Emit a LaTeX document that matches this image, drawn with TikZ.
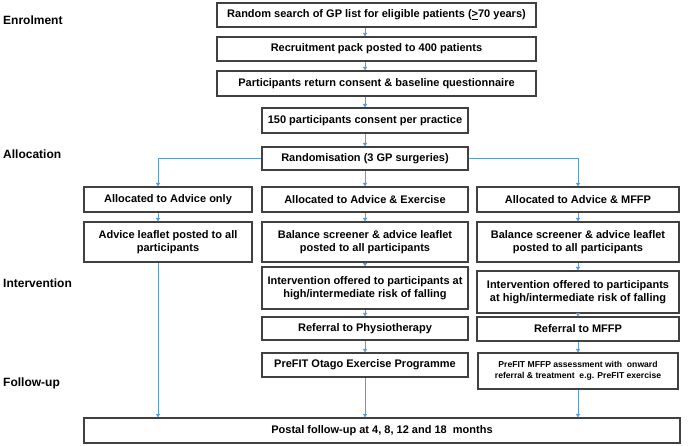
\documentclass[tikz,border=0pt]{standalone}
\usepackage{fontspec}
\setmainfont{Liberation Sans}
\usepackage{tikz}
\usetikzlibrary{calc,arrows.meta,positioning}

\definecolor{linkblue}{RGB}{91,155,213}
\definecolor{boxgrey}{RGB}{64,64,64}

\begin{document}
\begin{tikzpicture}[x=1pt,y=-1pt,
    box/.style={draw=boxgrey,line width=1.1pt,fill=white,inner sep=0pt,align=center,
      font=\fontsize{11}{12.5}\selectfont\bfseries},
    smallbox/.style={box,font=\fontsize{8.6}{10.5}\selectfont\bfseries},
    stage/.style={anchor=west,inner sep=0pt,font=\fontsize{12}{14}\selectfont\bfseries},
    arr/.style={draw=linkblue,line width=0.8pt,-{Triangle[length=3.5pt,width=4pt]}}]
        \useasboundingbox (0,0) rectangle (690,445);
        \def\colA{168}
        \def\colB{365}
        \def\colC{578}

        % stages
        \node[stage] (enrol) at (3,20) {Enrolment};
        \node[stage] (alloc) at (3,154) {Allocation};
        \node[stage] (interv) at (3,283) {Intervention};
        \node[stage] (follow) at (3,383) {Follow-up};

        % enrolment
        \node[box,minimum width=319,minimum height=24] (e1) at (376.5,15) {Random search of GP list for eligible patients (\underline{>}70 years)};
        \node[box,minimum width=319,minimum height=24] (e2) at (376.5,49) {Recruitment pack posted to 400 patients};
        \node[box,minimum width=319,minimum height=25] (e3) at (376.5,83.5) {Participants return consent \& baseline questionnaire};
        \node[box,minimum width=206,minimum height=25] (e4) at (\colB,120.5) {150 participants consent per practice};
        \node[box,minimum width=206,minimum height=23] (rand) at (\colB,158.5) {Randomisation (3 GP surgeries)};

        % advice only
        \node[box,minimum width=168,minimum height=25] (adv1) at (\colA,199.5) {Allocated to Advice only};
        \node[box,minimum width=168,minimum height=40] (adv2) at (\colA,242) {Advice leaflet posted to all\\participants};

        % advice & exercise
        \node[box,minimum width=206,minimum height=25] (ex1) at (\colB,199.5) {Allocated to Advice \& Exercise};
        \node[box,minimum width=206,minimum height=40] (ex2) at (\colB,242) {Balance screener \& advice leaflet\\posted to all participants};
        \node[box,minimum width=206,minimum height=42] (ex3) at (\colB,288) {Intervention offered to participants at\\high/intermediate risk of falling};
        \node[box,minimum width=206,minimum height=23] (ex4) at (\colB,328.5) {Referral to Physiotherapy};
        \node[box,minimum width=206,minimum height=24] (ex5) at (\colB,365) {PreFIT Otago Exercise Programme};

        % advice & MFFP
        \node[box,minimum width=202,minimum height=25] (mf1) at (\colC,199.5) {Allocated to Advice \& MFFP};
        \node[box,minimum width=202,minimum height=40] (mf2) at (\colC,242) {Balance screener \& advice leaflet\\posted to all participants};
        \node[box,minimum width=202,minimum height=42] (mf3) at (\colC,292) {Intervention offered to participants\\at high/intermediate risk of falling};
        \node[box,minimum width=202,minimum height=24] (mf4) at (\colC,329) {Referral to MFFP};
        \node[smallbox,minimum width=200,minimum height=36] (mf5) at (\colC,371) {PreFIT MFFP assessment with~ onward\\referral \& treatment~ e.g. PreFIT exercise};

        \node[box,minimum width=596,minimum height=25] (fu) at (382,430.5) {Postal follow-up at 4, 8, 12 and 18~ months};

        % connectors
        \foreach \a/\b in {e1/e2,e2/e3,e3/e4,e4/rand,rand/ex1,ex1/ex2,ex2/ex3,ex3/ex4,ex4/ex5,ex5/fu} {
          \draw[arr] (\a.south -| rand) -- (\b.north -| rand);
        }
        \foreach \a/\b in {mf1/mf2,mf2/mf3,mf3/mf4,mf4/mf5} {
          \draw[arr] (\a) -- (\b);
        }
        \draw[arr] (mf5.south) -- (fu.north -| mf5);
        \draw[arr] (rand.west) -| ([xshift=-10pt]adv1.north);
        \draw[arr] (rand.east) -| (mf1.north);
        \draw[arr] ([xshift=-10pt]adv1.south) -- ([xshift=-10pt]adv2.north);
        \draw[arr] ([xshift=-10pt]adv2.south) -- ([xshift=-10pt]adv2.south |- fu.north);
      \end{tikzpicture}
\end{document}
